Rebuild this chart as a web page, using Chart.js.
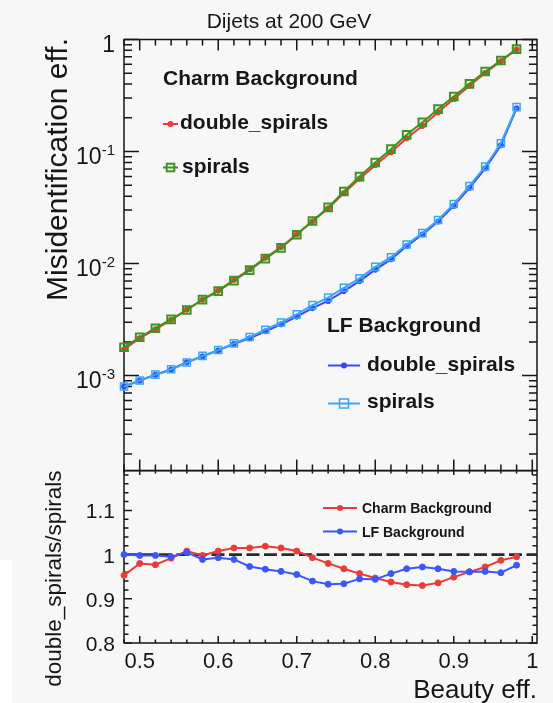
<!DOCTYPE html>
<html>
<head>
<meta charset="utf-8">
<script src="https://cdn.jsdelivr.net/npm/chart.js@4.4.1/dist/chart.umd.min.js"></script>
<style>
  html, body { margin: 0; padding: 0; background: #f7f7f7; }
  #wrap { position: relative; width: 553px; height: 703px; overflow: hidden; }
  #wrap canvas { position: absolute; left: 0; top: 0; }
  #blank { position: absolute; left: 0; top: 560px; width: 12px; height: 143px; background: #ffffff; }
</style>
</head>
<body>
<div id="wrap">
  <div id="blank"></div>
  <canvas id="effPanel" width="553" height="703"></canvas>
  <canvas id="ratioPanel" width="553" height="703"></canvas>
</div>
<script>
// b-tagging working points (beauty efficiency)
const beautyEff = [0.48, 0.50, 0.52, 0.54, 0.56, 0.58, 0.60, 0.62, 0.64, 0.66, 0.68, 0.70, 0.72,
                   0.74, 0.76, 0.78, 0.80, 0.82, 0.84, 0.86, 0.88, 0.90, 0.92, 0.94, 0.96, 0.98];

// charm mistag efficiency
const charmDouble = [1.71e-3, 2.16e-3, 2.59e-3, 3.15e-3, 3.88e-3, 4.76e-3, 5.73e-3, 7.16e-3, 8.87e-3,
                     1.128e-2, 1.401e-2, 1.824e-2, 2.383e-2, 3.107e-2, 4.259e-2, 5.723e-2, 7.557e-2,
                     0.0985, 0.1314, 0.1693, 0.2237, 0.2942, 0.3863, 0.5035, 0.6406, 0.8159];
const charmSpirals = [1.79e-3, 2.20e-3, 2.65e-3, 3.18e-3, 3.85e-3, 4.77e-3, 5.68e-3, 7.05e-3, 8.74e-3,
                      1.107e-2, 1.38e-2, 1.81e-2, 2.40e-2, 3.17e-2, 4.40e-2, 5.98e-2, 7.98e-2,
                      0.105, 0.141, 0.182, 0.239, 0.310, 0.402, 0.518, 0.649, 0.820];

// light-flavour mistag efficiency
const lfDouble = [8.00e-4, 9.02e-4, 1.018e-3, 1.134e-3, 1.317e-3, 1.484e-3, 1.678e-3, 1.919e-3, 2.150e-3,
                  2.485e-3, 2.867e-3, 3.362e-3, 4.004e-3, 4.637e-3, 5.679e-3, 6.974e-3, 8.826e-3,
                  1.091e-2, 1.433e-2, 1.818e-2, 2.372e-2, 3.271e-2, 4.738e-2, 7.071e-2, 0.1137, 0.2430];
const lfSpirals = [8.0e-4, 9.04e-4, 1.02e-3, 1.14e-3, 1.31e-3, 1.50e-3, 1.69e-3, 1.94e-3, 2.21e-3,
                   2.57e-3, 2.98e-3, 3.52e-3, 4.26e-3, 4.97e-3, 6.08e-3, 7.38e-3, 9.35e-3,
                   1.14e-2, 1.48e-2, 1.87e-2, 2.45e-2, 3.40e-2, 4.93e-2, 7.35e-2, 0.1186, 0.249];

// double_spirals / spirals
const ratioCharm = [0.953, 0.980, 0.977, 0.992, 1.008, 0.998, 1.008, 1.015, 1.015, 1.019, 1.015, 1.008, 0.993,
                    0.980, 0.968, 0.957, 0.947, 0.938, 0.932, 0.930, 0.936, 0.949, 0.961, 0.972, 0.987, 0.995];
const ratioLF = [1.000, 0.998, 0.998, 0.995, 1.005, 0.989, 0.993, 0.989, 0.973, 0.967, 0.962, 0.955, 0.940,
                 0.933, 0.934, 0.945, 0.944, 0.957, 0.968, 0.972, 0.968, 0.962, 0.961, 0.962, 0.959, 0.976];

// axes
const xRange = [0.48, 1.006];
const effRange = [1.42e-4, 1];
const ratioRange = [0.8, 1.19];
const ratioReference = 1.0;
const xMajorTicks = [0.5, 0.6, 0.7, 0.8, 0.9, 1.0];
const xTickLabels = ['0.5', '0.6', '0.7', '0.8', '0.9', '1'];
const effDecades = [1e-3, 1e-2, 1e-1, 1];
const effTickLabels = [['10', '-3'], ['10', '-2'], ['10', '-1'], ['1', '']];
const ratioMajorTicks = [0.8, 0.9, 1.0, 1.1];
const ratioTickLabels = ['0.8', '0.9', '1', '1.1'];

const INK = '#161616';
const FONT = '"Liberation Sans", Arial, Helvetica, sans-serif';
const C_RED = '#ec3a36';
const C_GREEN = '#3f9420';
const C_BLUE = '#3a48f2';
const C_AZURE = '#3aa6f6';
const C_RATIO_BLUE = '#3b57f5';

const pts = (ys) => beautyEff.map((x, i) => ({ x, y: ys[i] }));

function drawMarker(ctx, kind, x, y, color) {
  ctx.save();
  if (kind === 'dot') {
    ctx.fillStyle = color;
    ctx.beginPath(); ctx.arc(x, y, 3, 0, Math.PI * 2); ctx.fill();
  } else if (kind === 'square') {
    ctx.strokeStyle = color; ctx.lineWidth = 2;
    ctx.strokeRect(x - 3.8, y - 3.8, 7.6, 7.6);
  } else if (kind === 'squareThin') {
    ctx.strokeStyle = color; ctx.lineWidth = 1.5;
    ctx.strokeRect(x - 4.5, y - 4.5, 9, 9);
  }
  ctx.restore();
}

function legendRow(ctx, x0, x1, y, color, kind, text, tx, ty, font) {
  ctx.save();
  ctx.strokeStyle = color; ctx.lineWidth = 2;
  ctx.beginPath(); ctx.moveTo(x0, y); ctx.lineTo(x1, y); ctx.stroke();
  drawMarker(ctx, kind, (x0 + x1) / 2, y, color);
  ctx.fillStyle = INK; ctx.font = font; ctx.textAlign = 'left'; ctx.textBaseline = 'alphabetic';
  ctx.fillText(text, tx, ty);
  ctx.restore();
}

function xMinorValues() {
  const out = [];
  for (let i = 24; i <= 50; i++) if (i % 5 !== 0) out.push(i / 50);
  return out;
}

// frame, ticks and text of the efficiency panel
const effFrame = {
  id: 'effFrame',
  beforeDatasetsDraw(chart) {
    const { ctx, chartArea: a, scales: { x, y } } = chart;
    ctx.save();
    ctx.strokeStyle = INK; ctx.lineWidth = 1.5;
    ctx.beginPath();
    for (const v of xMinorValues()) {
      const p = x.getPixelForValue(v);
      ctx.moveTo(p, a.top); ctx.lineTo(p, a.top + 6);
      ctx.moveTo(p, a.bottom); ctx.lineTo(p, a.bottom - 6);
    }
    for (const v of xMajorTicks) {
      const p = x.getPixelForValue(v);
      ctx.moveTo(p, a.top); ctx.lineTo(p, a.top + 11);
      ctx.moveTo(p, a.bottom); ctx.lineTo(p, a.bottom - 11);
    }
    for (let e = -4; e <= 0; e++) {
      for (let k = 1; k <= 9; k++) {
        const v = k * Math.pow(10, e);
        if (v < effRange[0] || v > effRange[1] * 1.0001) continue;
        const p = y.getPixelForValue(v);
        const len = k === 1 ? 15 : 8;
        ctx.moveTo(a.left, p); ctx.lineTo(a.left + len, p);
        ctx.moveTo(a.right, p); ctx.lineTo(a.right - len, p);
      }
    }
    ctx.stroke();
    ctx.strokeRect(a.left, a.top, a.right - a.left, a.bottom - a.top);
    ctx.restore();
  },
  afterDraw(chart) {
    const { ctx, scales: { y } } = chart;
    ctx.save();
    ctx.fillStyle = INK;
    // decade labels with exponents
    effDecades.forEach((v, i) => {
      const p = y.getPixelForValue(v);
      const [base, exp] = effTickLabels[i];
      ctx.textBaseline = 'alphabetic';
      ctx.textAlign = 'right';
      let right = 115;
      if (exp) {
        ctx.font = '15px ' + FONT;
        ctx.fillText(exp, right, p + 3.5);
        right -= ctx.measureText(exp).width;
      }
      ctx.font = '23px ' + FONT;
      ctx.fillText(base, right, p + 12);
    });
    // title
    ctx.font = '21px ' + FONT;
    ctx.textAlign = 'center';
    ctx.fillText('Dijets at 200 GeV', 289, 28);
    // y axis title
    ctx.save();
    ctx.translate(67, 38);
    ctx.rotate(-Math.PI / 2);
    ctx.font = '30px ' + FONT;
    ctx.textAlign = 'right';
    ctx.fillText('Misidentification eff.', 0, 0);
    ctx.restore();
    // legends
    const bold = 'bold 21px ' + FONT;
    ctx.font = bold; ctx.textAlign = 'left';
    ctx.fillText('Charm Background', 163, 85);
    legendRow(ctx, 163, 178, 124, C_RED, 'dot', 'double_spirals', 180, 128.5, bold);
    legendRow(ctx, 163, 178, 167.5, C_GREEN, 'square', 'spirals', 182, 173, bold);
    ctx.font = bold; ctx.fillStyle = INK;
    ctx.fillText('LF Background', 327, 331.5);
    legendRow(ctx, 328, 360, 365.5, C_BLUE, 'dot', 'double_spirals', 367, 370.5, bold);
    legendRow(ctx, 328, 360, 403.5, C_AZURE, 'squareThin', 'spirals', 367, 407.5, bold);
    ctx.restore();
  }
};

// frame, ticks and text of the ratio panel
const ratioFrame = {
  id: 'ratioFrame',
  beforeDatasetsDraw(chart) {
    const { ctx, chartArea: a, scales: { x, y } } = chart;
    ctx.save();
    ctx.strokeStyle = INK; ctx.lineWidth = 1.5;
    ctx.beginPath();
    for (const v of xMinorValues()) {
      const p = x.getPixelForValue(v);
      ctx.moveTo(p, a.top); ctx.lineTo(p, a.top + 3);
      ctx.moveTo(p, a.bottom); ctx.lineTo(p, a.bottom - 3.5);
    }
    for (const v of xMajorTicks) {
      const p = x.getPixelForValue(v);
      ctx.moveTo(p, a.top); ctx.lineTo(p, a.top + 4.5);
      ctx.moveTo(p, a.bottom); ctx.lineTo(p, a.bottom - 7);
    }
    for (let i = 40; i <= 59; i++) {
      const v = i / 50;
      const p = y.getPixelForValue(v);
      const len = i % 5 === 0 ? 8 : 4.5;
      ctx.moveTo(a.left, p); ctx.lineTo(a.left + len, p);
      ctx.moveTo(a.right, p); ctx.lineTo(a.right - len, p);
    }
    ctx.stroke();
    ctx.strokeRect(a.left, a.top, a.right - a.left, a.bottom - a.top);
    ctx.restore();
  },
  afterDraw(chart) {
    const { ctx, scales: { x, y } } = chart;
    ctx.save();
    ctx.fillStyle = INK;
    ctx.textBaseline = 'alphabetic';
    ctx.font = '22px ' + FONT;
    ctx.textAlign = 'center';
    xMajorTicks.forEach((v, i) => ctx.fillText(xTickLabels[i], x.getPixelForValue(v), 668));
    ctx.font = '21px ' + FONT;
    ctx.textAlign = 'right';
    ratioMajorTicks.forEach((v, i) => ctx.fillText(ratioTickLabels[i], 115, y.getPixelForValue(v) + 8));
    // axis titles
    ctx.font = '26px ' + FONT;
    ctx.textAlign = 'right';
    ctx.fillText('Beauty eff.', 537, 698);
    ctx.save();
    ctx.translate(60.5, 470.5);
    ctx.rotate(-Math.PI / 2);
    ctx.font = '22.5px ' + FONT;
    ctx.textAlign = 'right';
    ctx.fillText('double_spirals/spirals', 0, 0);
    ctx.restore();
    // legend
    const small = 'bold 14px ' + FONT;
    legendRow(ctx, 323, 357, 508, C_RED, 'dot', 'Charm Background', 362, 513, small);
    legendRow(ctx, 323, 357, 531.5, C_RATIO_BLUE, 'dot', 'LF Background', 362, 536.5, small);
    ctx.restore();
  }
};

const common = {
  responsive: false,
  animation: false,
  events: [],
  plugins: { legend: { display: false }, tooltip: { enabled: false } }
};

function series(data, color, opts) {
  return Object.assign({
    data, borderColor: color, backgroundColor: color, borderWidth: 2,
    pointBackgroundColor: color, pointBorderColor: color, pointRadius: 2.6,
    pointBorderWidth: 1, tension: 0, clip: false, fill: false
  }, opts);
}

new Chart(document.getElementById('effPanel'), {
  type: 'line',
  data: {
    datasets: [
      series(pts(lfSpirals), C_AZURE, { order: 1, pointStyle: 'rect', pointRadius: 5, pointBorderWidth: 1.5, pointBackgroundColor: 'rgba(0,0,0,0)' }),
      series(pts(lfDouble), C_BLUE, { order: 2, pointStyle: 'circle' }),
      series(pts(charmSpirals), C_GREEN, { order: 3, pointStyle: 'rect', pointRadius: 5.4, pointBorderWidth: 2, pointBackgroundColor: 'rgba(0,0,0,0)' }),
      series(pts(charmDouble), C_RED, { order: 4, pointStyle: 'circle' })
    ]
  },
  options: Object.assign({}, common, {
    layout: { padding: { left: 124, right: 16, top: 39.5, bottom: 232.4 } },
    scales: {
      x: { type: 'linear', min: xRange[0], max: xRange[1], display: false },
      y: { type: 'logarithmic', min: effRange[0], max: effRange[1], display: false }
    }
  }),
  plugins: [effFrame]
});

new Chart(document.getElementById('ratioPanel'), {
  type: 'line',
  data: {
    datasets: [
      series(pts(ratioLF), C_RATIO_BLUE, { order: 1, pointRadius: 3 }),
      series(pts(ratioCharm), C_RED, { order: 2, pointRadius: 3 }),
      {
        data: [{ x: xRange[0], y: ratioReference }, { x: xRange[1], y: ratioReference }],
        borderColor: '#2a2a2a', borderWidth: 2.6, borderDash: [13, 4.5], pointRadius: 0,
        order: 3, clip: false, fill: false
      }
    ]
  },
  options: Object.assign({}, common, {
    layout: { padding: { left: 124, right: 16, top: 470.6, bottom: 60 } },
    scales: {
      x: { type: 'linear', min: xRange[0], max: xRange[1], display: false },
      y: { type: 'linear', min: ratioRange[0], max: ratioRange[1], display: false }
    }
  }),
  plugins: [ratioFrame]
});
</script>
</body>
</html>
